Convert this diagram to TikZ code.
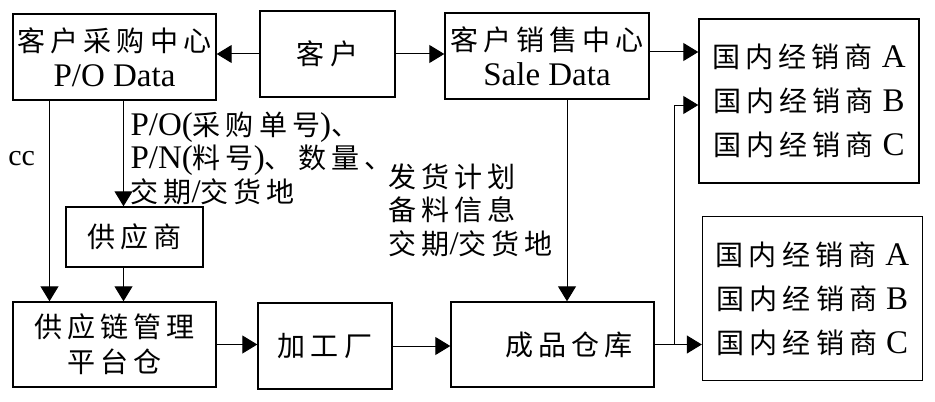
\documentclass[tikz,border=0pt]{standalone}
\usepackage{fontspec}
\setmainfont{Liberation Serif}
\newfontfamily\cjk{Noto Sans CJK SC}[Scale=0.85,LetterSpace=18]
\newcommand{\zh}[1]{{\cjk #1}}
\usetikzlibrary{arrows.meta,positioning,calc}

\begin{document}
\begin{tikzpicture}[x=0.5pt, y=-0.5pt, >={Triangle[length=7.5pt,width=9pt]}, line width=0.5pt,
		box/.style={draw, line width=0.7pt, inner sep=0pt, align=center, font=\fontsize{16.5}{17.5}\selectfont},
		dealers/.style={box, minimum width=110pt, minimum height=82pt, font=\fontsize{16.5}{22}\selectfont},
		note/.style={anchor=north west, inner sep=0pt, align=left, font=\fontsize{16.5}{16.8}\selectfont}]
		\useasboundingbox (0,0) rectangle (935,401);
		\node[box, minimum width=101.5pt, minimum height=43pt] (pur) at (114.5,57) {\zh{客户采购中心}\\P/O Data};
		\node[box, minimum width=67.5pt, minimum height=43pt] (cust) at (327.5,54) {\zh{客户}};
		\node[box, minimum width=102pt, minimum height=43pt] (sale) at (547,56) {\zh{客户销售中心}\\Sale Data};
		\node[dealers] (dtop) at (809,101) {\zh{国内经销商}\hspace{4.5pt}A\\\zh{国内经销商}\hspace{4.5pt}B\\\zh{国内经销商}\hspace{4.5pt}C};
		\node[box, minimum width=68.5pt, minimum height=30pt] (supp) at (134.5,237) {\zh{供应商}};
		\node[box, minimum width=101.5pt, minimum height=42.5pt] (scm) at (114.5,344.5) {\zh{供应链管理}\\\zh{平台仓}};
		\node[box, minimum width=67pt, minimum height=43pt] (fac) at (325,346) {\zh{加工厂}};
		\node[box, minimum width=101.5pt, minimum height=42.5pt] (ware) at (552.5,344.5) {\zh{　成品仓库}};
		\node[dealers] (dbot) at (812.5,298.5) {\zh{国内经销商}\hspace{4.5pt}A\\\zh{国内经销商}\hspace{4.5pt}B\\\zh{国内经销商}\hspace{4.5pt}C};
		\node[note] (order) at (130,111) {P/O(\zh{采购单号})\zh{、}\\P/N(\zh{料号})\zh{、数量、}\\\zh{交期}/\zh{交货地}};
		\node[note] (plan) at (388,163) {\zh{发货计划}\\\zh{备料信息}\\\zh{交期}/\zh{交货地}};
		\coordinate (po) at ([xshift=4.5pt]pur.south);
		\coordinate (cc) at ([xshift=-32.5pt]pur.south);
		\coordinate (sd) at ([xshift=10pt]sale.south);
		\coordinate (br) at ([xshift=10pt]ware.east);
		\draw[->] (cust.west) -- (cust.west -| pur.east);
		\draw[->] (cust.east) -- (cust.east -| sale.west);
		\draw[->] ([yshift=2pt]sale.east) -- ([yshift=2pt]sale.east -| dtop.west);
		\draw[->] (po) -- (po |- supp.north);
		\draw[->] (po |- supp.south) -- (po |- scm.north);
		\draw[->] (cc) -- node[left=7pt, inner sep=0pt, pos=0.29, font=\fontsize{15}{15}\selectfont] {cc} (cc |- scm.north);
		\draw[->] (scm.east) -- (scm.east -| fac.west);
		\draw[->] (fac.east) -- (fac.east -| ware.west);
		\draw[->] (sd) -- (sd |- ware.north);
		\draw[->] (ware.east) -- (ware.east -| dbot.west);
		\draw[->] (br) |- ([yshift=-2pt]dtop.west);
\end{tikzpicture}
\end{document}
